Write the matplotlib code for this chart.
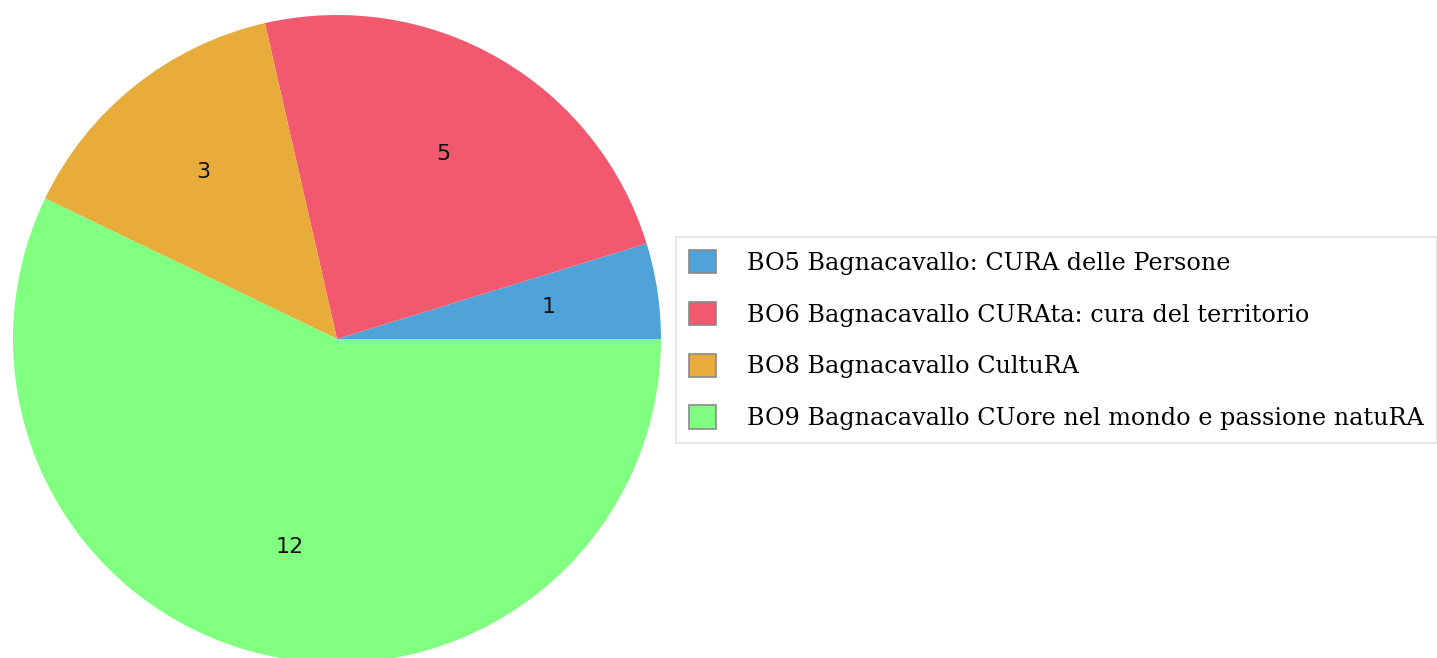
import matplotlib
matplotlib.use("Agg")
import matplotlib.pyplot as plt
from matplotlib.patches import Patch

labels = [
    "BO5 Bagnacavallo: CURA delle Persone",
    "BO6 Bagnacavallo CURAta: cura del territorio",
    "BO8 Bagnacavallo CultuRA",
    "BO9 Bagnacavallo CUore nel mondo e passione natuRA",
]
values = [1, 5, 3, 12]
colors = ["#4FA3D9", "#F2596F", "#E8AC3A", "#80FF80"]

W, H = 1437, 658
fig = plt.figure(figsize=(W / 100, H / 100), dpi=100)

cx, cy, r = 337, 339, 324
ax = fig.add_axes([(cx - r) / W, (H - cy - r) / H, 2 * r / W, 2 * r / H])
wedges, texts = ax.pie(
    values, colors=colors, startangle=0, counterclock=True,
    labels=[str(v) for v in values], labeldistance=0.66,
    wedgeprops=dict(linewidth=0),
    textprops=dict(fontsize=16, color="#111111", family="DejaVu Sans"),
)
for t in texts:
    t.set_ha("center")
    t.set_va("center")
ax.set_xlim(-1, 1)
ax.set_ylim(-1, 1)
ax.set_aspect("equal")
ax.axis("off")

handles = [Patch(facecolor=c, edgecolor="#8a8a8a", linewidth=1.2) for c in colors]
fs = 17.2
em = fs * 100 / 72
leg = fig.legend(
    handles, labels, loc="upper left",
    bbox_to_anchor=(676 / W, (H - 237) / H),
    prop=dict(family="DejaVu Serif", size=fs),
    handlelength=27 / em, handleheight=27 / em, labelspacing=1.13,
    handletextpad=31 / em, borderpad=13 / em, borderaxespad=0,
    frameon=True, fancybox=False,
)
leg.get_frame().set_edgecolor("#dddddd")
leg.get_frame().set_linewidth(1.2)

fig.savefig("out.png", dpi=100)
